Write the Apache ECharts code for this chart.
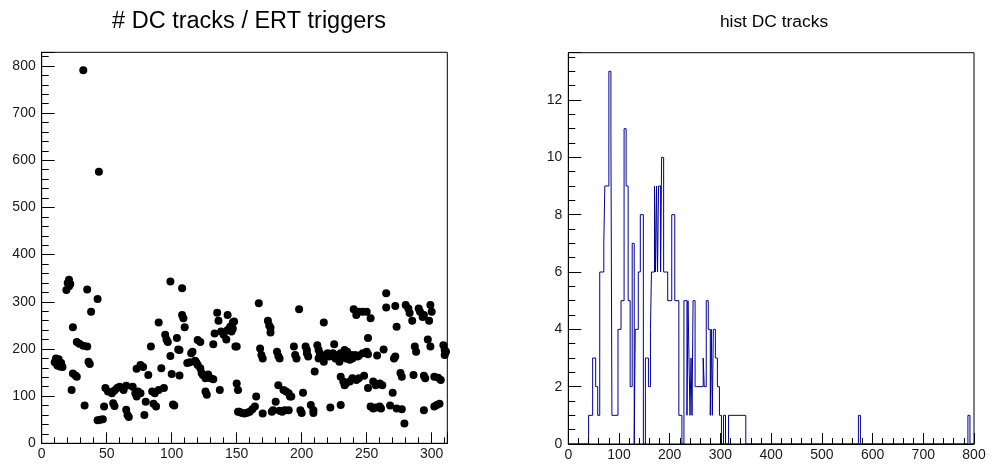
<!DOCTYPE html>
<html><head><meta charset="utf-8">
<script src="https://cdn.jsdelivr.net/npm/echarts@6/dist/echarts.min.js"></script>
<style>html,body{margin:0;padding:0;background:#fff}#c{width:992px;height:466px}</style>
</head><body><div id="c"></div>
<script>
// Left panel: # DC tracks / ERT triggers per run index
const runIndex = [10,11,12,13,14,15,16,19,20,21,21,22,23,24,24,26,27,27,29,32,35,32,33,35,36,37,38,43,43,45,47,44,48,49,51,54,56,58,60,63,65,55,56,65,66,67,70,72,73,74,76,73,76,78,79,80,82,84,85,87,90,86,88,90,92,94,95,96,97,99,99,100,101,102,104,105,106,106,108,108,109,110,112,114,115,116,118,119,120,122,123,124,126,127,128,120,122,126,127,130,132,132,133,135,136,137,138,140,142,143,145,146,147,143,147,148,149,150,150,151,151,152,154,156,158,160,162,164,165,167,168,169,170,170,174,175,176,176,177,178,180,181,182,183,182,183,185,187,190,186,188,190,191,192,194,195,196,198,199,200,201,203,204,204,205,207,209,209,210,212,213,214,213,214,216,217,219,220,221,223,224,225,226,228,229,230,232,217,222,230,233,234,235,237,238,230,232,233,234,237,239,242,244,248,240,242,244,247,250,253,239,241,243,244,247,250,251,251,251,253,255,257,260,261,255,257,260,262,258,263,265,265,272,270,271,272,268,273,277,273,276,277,279,280,282,283,285,286,287,288,290,291,293,294,294,295,297,298,294,299,300,299,302,305,307,302,304,306,309,310,310,311];
const trackRatio = [172,180,165,178,163,170,162,325,340,347,333,338,113,246,148,144,141,215,211,207,205,791,80,326,173,168,279,306,49,50,51,576,78,117,110,106,112,117,120,113,122,85,79,71,60,56,120,106,99,110,106,158,166,162,60,88,145,205,110,106,113,84,78,256,159,117,230,220,215,185,343,147,82,80,223,199,198,144,329,272,265,246,170,172,191,194,175,171,166,159,149,145,138,141,146,219,215,110,103,138,136,210,233,277,260,113,237,230,220,240,247,237,243,272,256,258,205,205,127,113,67,67,64,63,65,67,72,78,99,297,201,187,180,63,260,250,245,235,67,70,88,194,185,180,123,69,67,70,70,113,110,106,99,99,205,187,180,284,70,64,107,205,198,191,184,81,70,64,152,208,198,191,180,187,180,173,187,191,184,186,191,210,180,187,173,191,184,256,76,81,198,180,194,177,187,141,131,123,127,131,138,134,138,143,284,272,279,279,279,265,180,187,184,186,191,194,189,223,117,78,74,76,78,74,131,123,127,123,186,199,318,288,291,107,180,184,80,74,72,247,149,141,42,293,286,276,260,145,205,194,286,279,268,272,143,138,220,260,70,293,279,205,141,139,134,78,81,84,208,198,187,194];

// Right panel: histogram of DC tracks (lower bin edge -> count until next edge)
const histEdges  = [0,40,48,54,58,62,70,72,80,84,86,98,104,110,114,118,122,126,130,132,138,142,148,152,158,162,164,170,172,174,176,178,182,184,188,196,204,210,218,224,228,234,236,238,240,242,244,246,250,266,268,272,276,280,282,284,286,290,294,298,302,306,310,316,350,572,576,788,792,800];
const histCounts = [0,1,3,2,1,6,7,9,13,11,1,4,5,11,9,5,2,7,0,4,6,8,0,3,2,4,6,9,6,9,6,9,6,10,6,5,8,5,1,0,5,1,5,3,1,3,1,5,2,3,2,5,4,1,4,1,4,3,2,1,0,1,0,1,0,1,0,1,0,0];

const titles = ['# DC tracks / ERT triggers', 'hist DC tracks'];

const FONT = '"Liberation Sans", Arial, Helvetica, sans-serif';
const BLACK = '#000';

function majorAxis(dim, grid, min, max, interval, tickLen, labelMargin) {
  return {
    type: 'value', gridIndex: grid, min: min, max: max, interval: interval,
    position: dim === 'x' ? 'bottom' : 'left', z: 5,
    axisLine: { show: true, onZero: false, lineStyle: { color: BLACK, width: 1 } },
    axisTick: { show: true, inside: true, length: tickLen, lineStyle: { color: BLACK, width: 1 } },
    axisLabel: {
      show: true, margin: labelMargin, color: '#1a1a1a', fontFamily: FONT, fontSize: 14,
      formatter: function (v) { return Math.abs(v / interval - Math.round(v / interval)) < 1e-6 ? String(v) : ''; }
    },
    splitLine: { show: false }
  };
}
function minorAxis(dim, grid, min, max, interval, tickLen) {
  return {
    type: 'value', gridIndex: grid, min: min, max: max, interval: interval,
    position: dim === 'x' ? 'bottom' : 'left', offset: 0, z: 5,
    axisLine: { show: false },
    axisTick: { show: true, inside: true, length: tickLen, lineStyle: { color: BLACK, width: 1 } },
    axisLabel: { show: false },
    splitLine: { show: false }
  };
}

const histData = histEdges.map((e, i) => [e, histCounts[i]]);
const scatterData = runIndex.map((x, i) => [x, trackRatio[i]]);

const chart = echarts.init(document.getElementById('c'), null, { renderer: 'canvas' });
chart.setOption({
  animation: false,
  backgroundColor: '#fff',
  title: [
    { text: titles[0], left: 244, top: 5, textAlign: 'center',
      textStyle: { fontFamily: FONT, fontSize: 23.5, fontWeight: 'normal', color: '#000' } },
    { text: titles[1], left: 769, top: 9, textAlign: 'center',
      textStyle: { fontFamily: FONT, fontSize: 17.4, fontWeight: 'normal', color: '#000' } }
  ],
  grid: [
    { left: 41.7, top: 52.3, width: 405.6, height: 391, show: true, borderColor: BLACK, borderWidth: 1, backgroundColor: 'transparent', containLabel: false },
    { left: 568.3, top: 52.7, width: 405.7, height: 391.3, show: true, borderColor: BLACK, borderWidth: 1, backgroundColor: 'transparent', containLabel: false }
  ],
  xAxis: [
    majorAxis('x', 0, 0, 312, 50, 11, 4),
    minorAxis('x', 0, 0, 312, 10, 6),
    majorAxis('x', 1, 0, 800, 100, 11, 4),
    minorAxis('x', 1, 0, 800, 20, 6)
  ],
  yAxis: [
    majorAxis('y', 0, 0, 829, 100, 13, 6),
    minorAxis('y', 0, 0, 829, 20, 7),
    majorAxis('y', 1, 0, 13.65, 2, 13, 6),
    minorAxis('y', 1, 0, 13.65, 0.5, 7)
  ],
  series: [
    { type: 'scatter', xAxisIndex: 0, yAxisIndex: 0, data: scatterData,
      symbol: 'circle', symbolSize: 8, itemStyle: { color: '#000', opacity: 1 }, z: 2 },
    { type: 'line', xAxisIndex: 2, yAxisIndex: 2, data: histData, step: 'end',
      showSymbol: false, symbol: 'none', lineStyle: { color: '#000099', width: 1 }, z: 2 }
  ]
});
</script>
</body></html>
